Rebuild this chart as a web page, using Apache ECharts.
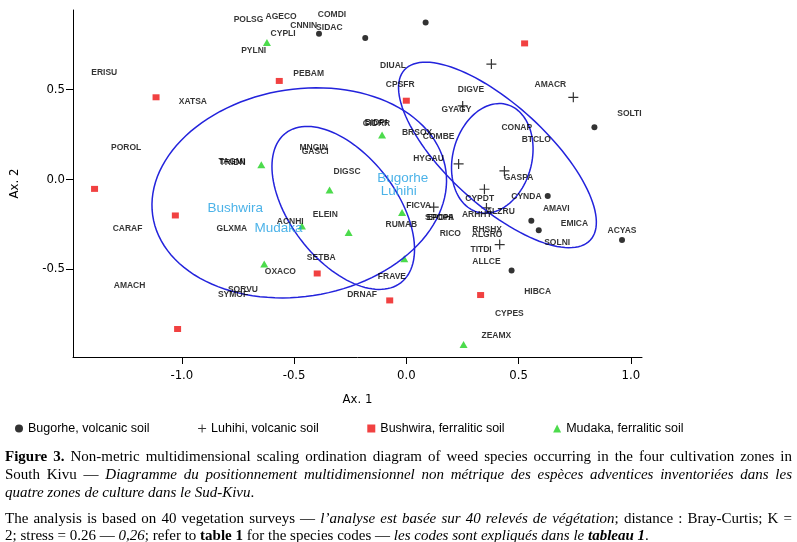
<!DOCTYPE html>
<html>
<head>
<meta charset="utf-8">
<script src="https://cdn.jsdelivr.net/npm/echarts@6/dist/echarts.min.js"></script>
<style>
  html, body { margin: 0; padding: 0; background: #fff; }
  #chart { position: absolute; left: 0; top: 0; width: 797px; height: 542px; }
  .cap { position: absolute; left: 5px; width: 787px; font-family: "Liberation Serif", "Times New Roman", serif;
         font-size: 15px; line-height: 18px; color: #000; white-space: nowrap; }
  .full { text-align: justify; text-align-last: justify; }
</style>
</head>
<body>
<div id="chart"></div>
<div class="cap full" style="top:447px"><b>Figure 3.</b> Non-metric multidimensional scaling ordination diagram of weed species occurring in the four cultivation zones in</div>
<div class="cap full" style="top:465px">South Kivu — <i>Diagramme du positionnement multidimensionnel non métrique des espèces adventices inventoriées dans les</i></div>
<div class="cap" style="top:483px"><i>quatre zones de culture dans le Sud-Kivu</i>.</div>
<div class="cap full" style="top:509px">The analysis is based on 40 vegetation surveys — <i>l’analyse est basée sur 40 relevés de végétation</i>; distance : Bray-Curtis; K =</div>
<div class="cap" style="top:526px">2; stress = 0.26 — <i>0,26</i>; refer to <b>table 1</b> for the species codes — <i>les codes sont expliqués dans le <b>tableau 1</b></i>.</div>
<script>
// site scores per zone (Ax. 1, Ax. 2)
const bugorhe = [[-0.389, 0.810], [-0.183, 0.786], [0.086, 0.873], [0.838, 0.289], [0.630, -0.093],
  [0.557, -0.232], [0.590, -0.284], [0.961, -0.338], [0.469, -0.508]];
const luhihi = [[0.379, 0.641], [0.744, 0.456], [0.251, 0.408], [0.233, 0.085], [0.437, 0.046],
  [0.348, -0.056], [0.357, -0.160], [0.122, -0.156], [0.416, -0.364]];
const bushwira = [[0.527, 0.756], [-0.566, 0.547], [-1.115, 0.456], [0.000, 0.437], [-1.389, -0.054],
  [-1.029, -0.202], [-0.397, -0.525], [-0.074, -0.675], [0.331, -0.645], [-1.019, -0.834]];
const mudaka = [[-0.621, 0.761], [-0.108, 0.246], [-0.646, 0.080], [-0.342, -0.060], [-0.465, -0.260],
  [-0.257, -0.297], [-0.019, -0.186], [-0.633, -0.472], [-0.009, -0.443], [0.255, -0.920]];

// species scores
const speciesCodes = ['POLSG', 'AGECO', 'COMDI', 'CNNIN', 'SIDAC', 'CYPLI', 'PYLNI', 'ERISU', 'XATSA', 'PEBAM',
  'DIUAL', 'CPSFR', 'GYAGY', 'DIGVE', 'AMACR', 'SOLTI', 'CONAP', 'BTCLO', 'BIDPI', 'GIDRR',
  'BRSOX', 'COMBE', 'HYGAU', 'MNGIN', 'GASCI', 'TAGMI', 'TRIDN', 'DIGSC', 'ELEIN', 'ACNHI',
  'GLXMA', 'FICVA', 'SPOPA', 'EPOHI', 'RUMAB', 'RICO', 'GASPA', 'CYPDT', 'CYNDA', 'ARHHY',
  'ALZRU', 'AMAVI', 'EMICA', 'ACYAS', 'SOLNI', 'RHSHX', 'ALGRO', 'TITDI', 'ALLCE', 'HIBCA',
  'CYPES', 'ZEAMX', 'POROL', 'CARAF', 'AMACH', 'SORVU', 'SYMOF', 'OXACO', 'SETBA', 'FRAVE', 'DRNAF'];
const speciesX = [-0.703, -0.558, -0.331, -0.457, -0.343, -0.549, -0.680, -1.346, -0.951, -0.435,
  -0.059, -0.027, 0.223, 0.288, 0.642, 0.994, 0.492, 0.579, -0.135, -0.133,
  0.048, 0.144, 0.099, -0.413, -0.406, -0.777, -0.774, -0.264, -0.361, -0.517,
  -0.777, 0.055, 0.148, 0.150, -0.022, 0.196, 0.500, 0.327, 0.535, 0.315,
  0.419, 0.668, 0.749, 0.961, 0.672, 0.360, 0.360, 0.333, 0.357, 0.585,
  0.459, 0.401, -1.248, -1.242, -1.233, -0.728, -0.772, -0.561, -0.379, -0.064, -0.197];
const speciesY = [0.890, 0.904, 0.914, 0.853, 0.844, 0.812, 0.715, 0.593, 0.432, 0.590,
  0.632, 0.528, 0.385, 0.497, 0.524, 0.363, 0.285, 0.219, 0.313, 0.310,
  0.259, 0.239, 0.115, 0.176, 0.156, 0.096, 0.094, 0.041, -0.197, -0.234,
  -0.275, -0.150, -0.215, -0.213, -0.252, -0.304, 0.006, -0.111, -0.100, -0.199,
  -0.180, -0.165, -0.245, -0.286, -0.356, -0.282, -0.310, -0.393, -0.458, -0.625,
  -0.749, -0.870, 0.176, -0.276, -0.592, -0.616, -0.644, -0.514, -0.436, -0.545, -0.644];

// zone names placed in the plot
const zoneLabels = ['Bugorhe', 'Luhihi', 'Bushwira', 'Mudaka'];
const zoneLabelPos = [[-0.016, 0.003], [-0.034, -0.065], [-0.762, -0.161], [-0.569, -0.275]];

// dispersion ellipses: centre and two conjugate semi-axes
const ellipseCenters = [[-0.477, -0.076], [-0.281, -0.160], [0.406, 0.135], [0.383, 0.116]];
const ellipseAxisA = [[0.655, 0.033], [0.256, -0.417], [0.414, -0.474], [0.076, 0.295]];
const ellipseAxisB = [[0.040, 0.584], [0.188, 0.179], [0.151, 0.205], [0.165, -0.078]];

const xTicks = [-1.0, -0.5, 0.0, 0.5, 1.0];
const yTicks = [-0.5, 0.0, 0.5];

const plusPath = 'path://M4.4,0h1.2v4.4h4.4v1.2h-4.4v4.4h-1.2v-4.4h-4.4v-1.2h4.4z';
const narrow = '"Liberation Sans Narrow", "DejaVu Sans Condensed", Arial, sans-serif';

const chart = echarts.init(document.getElementById('chart'));

const speciesData = speciesCodes.map((name, i) => ({ name, value: [speciesX[i], speciesY[i]] }));
const zoneData = zoneLabels.map((name, i) => ({ name, value: zoneLabelPos[i] }));

const option = {
  animation: false,
  grid: { left: 73, right: 155, top: 10, bottom: 185 },
  xAxis: {
    type: 'value', min: -1.485, max: 1.05,
    name: 'Ax. 1', nameLocation: 'middle', nameGap: 36,
    nameTextStyle: { fontFamily: narrow, fontSize: 13, color: '#000' },
    axisLine: { onZero: false, lineStyle: { color: '#000', width: 1 } },
    axisTick: { inside: false, length: 7, customValues: xTicks, lineStyle: { color: '#000' } },
    axisLabel: { customValues: xTicks, margin: 12, color: '#000', fontFamily: narrow, fontSize: 13,
      formatter: v => v.toFixed(1) },
    splitLine: { show: false }
  },
  yAxis: {
    type: 'value', min: -0.99, max: 0.942,
    name: 'Ax. 2', nameLocation: 'middle', nameGap: 52, nameRotate: 90,
    nameTextStyle: { fontFamily: narrow, fontSize: 13, color: '#000' },
    axisLine: { onZero: false, lineStyle: { color: '#000', width: 1 } },
    axisTick: { inside: false, length: 7, customValues: yTicks, lineStyle: { color: '#000' } },
    axisLabel: { customValues: yTicks, margin: 8, color: '#000', fontFamily: narrow, fontSize: 13,
      formatter: v => v.toFixed(1) },
    splitLine: { show: false }
  },
  legend: {
    left: 10, top: 417, itemGap: 48.5, itemWidth: 8, itemHeight: 8,
    textStyle: { fontFamily: '"Liberation Sans", Arial, sans-serif', fontSize: 12.5, color: '#000' },
    data: [
      { name: 'Bugorhe, volcanic soil', icon: 'circle' },
      { name: 'Luhihi, volcanic soil', icon: plusPath },
      { name: 'Bushwira, ferralitic soil', icon: 'rect' },
      { name: 'Mudaka, ferralitic soil', icon: 'triangle' }
    ]
  },
  series: [
    {
      name: 'Bugorhe, volcanic soil', type: 'scatter', data: bugorhe,
      symbol: 'circle', symbolSize: 6, itemStyle: { color: '#000' }, silent: true
    },
    {
      name: 'Luhihi, volcanic soil', type: 'scatter', data: luhihi,
      symbol: plusPath, symbolSize: 10, itemStyle: { color: '#000' }, silent: true
    },
    {
      name: 'Bushwira, ferralitic soil', type: 'scatter', data: bushwira,
      symbol: 'rect', symbolSize: [7, 6], itemStyle: { color: '#ee1111' }, silent: true
    },
    {
      name: 'Mudaka, ferralitic soil', type: 'scatter', data: mudaka,
      symbol: 'triangle', symbolSize: [8, 7], itemStyle: { color: '#1fd21f' }, silent: true
    },
    {
      // ellipses
      type: 'custom', silent: true, z: 3,
      data: ellipseCenters.map((c, i) => i),
      renderItem: (params, api) => {
        const i = params.dataIndex;
        const c = ellipseCenters[i], a = ellipseAxisA[i], b = ellipseAxisB[i];
        const pts = [];
        for (let k = 0; k < 120; k++) {
          const t = k / 120 * Math.PI * 2;
          pts.push(api.coord([
            c[0] + Math.cos(t) * a[0] + Math.sin(t) * b[0],
            c[1] + Math.cos(t) * a[1] + Math.sin(t) * b[1]
          ]));
        }
        return {
          type: 'polygon', shape: { points: pts },
          style: { fill: 'none', stroke: '#2323dc', lineWidth: 1.5 }
        };
      }
    },
    {
      name: 'species', type: 'scatter', data: speciesData, symbolSize: 0, silent: true, z: 4,
      label: {
        show: true, position: 'inside', formatter: '{b}', color: '#000',
        fontFamily: 'Arial, "Liberation Sans", sans-serif', fontWeight: 'bold', fontSize: 8.5
      }
    },
    {
      name: 'zones', type: 'scatter', data: zoneData, symbolSize: 0, silent: true, z: 5,
      label: {
        show: true, position: 'inside', formatter: '{b}', color: '#1e9fe2',
        fontFamily: 'Arial, "Liberation Sans", sans-serif', fontSize: 13.5
      }
    }
  ]
};

chart.setOption(option);
</script>
</body>
</html>
